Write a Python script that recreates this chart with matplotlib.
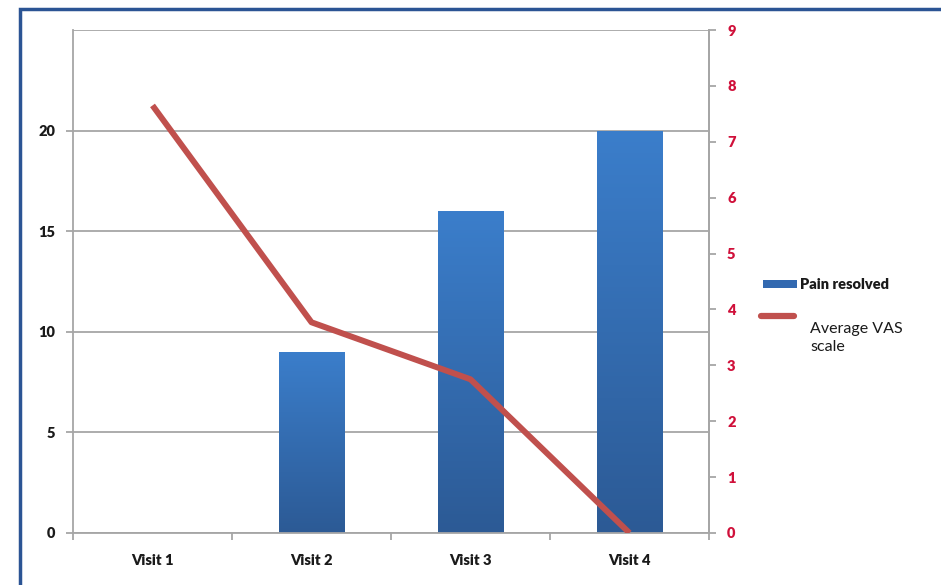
import matplotlib
matplotlib.use("Agg")
import matplotlib.pyplot as plt
import numpy as np
from matplotlib.patches import Rectangle
from matplotlib.lines import Line2D
from matplotlib.colors import LinearSegmentedColormap

categories = ["Visit 1", "Visit 2", "Visit 3", "Visit 4"]
pain_resolved = [0, 9, 16, 20]
avg_vas = [7.65, 3.77, 2.75, 0.0]
left_ticks = [0, 5, 10, 15, 20]
right_ticks = list(range(0, 10))

W, H = 941, 585
fig = plt.figure(figsize=(W / 100, H / 100), dpi=100)
fig.patch.set_facecolor("white")

# outer border
fig.add_artist(Rectangle((19.5 / W, -0.1), 1.2, 1 - 9 / H + 0.1, transform=fig.transFigure,
                         fill=False, edgecolor="#2b5494", linewidth=2.5))

x0, x1, y0, y1 = 73, 709, 533, 30
ax = fig.add_axes([x0 / W, 1 - y0 / H, (x1 - x0) / W, (y0 - y1) / H])
grid_c = "#a6a6a6"
for v in [0, 5, 10, 15, 20, 25]:
    ax.axhline(v, color=grid_c, lw=1.3, zorder=1)

xs = np.arange(len(categories)) + 0.5
bw = 0.41
grad = np.linspace(0, 1, 256).reshape(-1, 1)
cmap = LinearSegmentedColormap.from_list("bg", ["#2c5a95", "#3b7ecb"])
bars = ax.bar(xs, pain_resolved, width=bw, color="none", zorder=2)
for b in bars:
    h = b.get_height()
    if h <= 0:
        continue
    xl = b.get_x()
    im = ax.imshow(grad, extent=[xl, xl + bw, 0, h], aspect="auto", cmap=cmap,
                   origin="lower", zorder=2)
    im.set_clip_path(b)
ax.set_xlim(0, 4)
ax.set_ylim(0, 25)

ax.spines["top"].set_visible(False)
for s in ["left", "bottom", "right"]:
    ax.spines[s].set_color(grid_c)
    ax.spines[s].set_linewidth(1.3)

tick_font = dict(family="Lato", weight="heavy", size=10.5)
ax.set_yticks(left_ticks)
ax.set_yticklabels([str(t) for t in left_ticks], fontdict=tick_font, color="#1a1a1a")
ax.tick_params(axis="y", direction="out", length=5, color=grid_c, width=1.3, pad=8)
ax.set_xticks([0, 1, 2, 3, 4])
ax.set_xticklabels([])
ax.tick_params(axis="x", direction="out", length=5, color=grid_c, width=1.3)
for x, c in zip(xs, categories):
    ax.text(x, -0.054, c, transform=ax.get_xaxis_transform(), ha="center", va="center",
            fontdict=tick_font, color="#1a1a1a")

ax2 = ax.twinx()
ax2.set_ylim(0, 9)
ax2.set_xlim(0, 4)
ax2.plot(xs, avg_vas, color="#c0504d", lw=4.3, solid_capstyle="butt", zorder=3)
ax2.set_yticks(right_ticks)
ax2.set_yticklabels([str(t) for t in right_ticks], fontdict=tick_font, color="#d0103a")
ax2.tick_params(axis="y", direction="out", length=5, color=grid_c, width=1.3, pad=8)
for s in ["top", "left", "bottom"]:
    ax2.spines[s].set_visible(False)
ax2.spines["right"].set_color(grid_c)
ax2.spines["right"].set_linewidth(1.3)

# legend
fig.add_artist(Rectangle((763 / W, 1 - 288 / H), 34 / W, 8 / H, transform=fig.transFigure,
                         facecolor="#3269b0", edgecolor="none"))
fig.text(800 / W, 1 - 284 / H, "Pain resolved", fontdict=tick_font,
         va="center", ha="left", color="#1a1a1a")
fig.add_artist(Line2D([761 / W, 794 / W], [1 - 316 / H, 1 - 316 / H], transform=fig.transFigure,
                      color="#c0504d", lw=4.5, solid_capstyle="round"))
fig.text(810 / W, 1 - 338 / H, "Average VAS\nscale", fontfamily="Lato", fontsize=11.5,
         va="center", ha="left", color="#1a1a1a", linespacing=1.3)

fig.savefig("out.png", dpi=100)
